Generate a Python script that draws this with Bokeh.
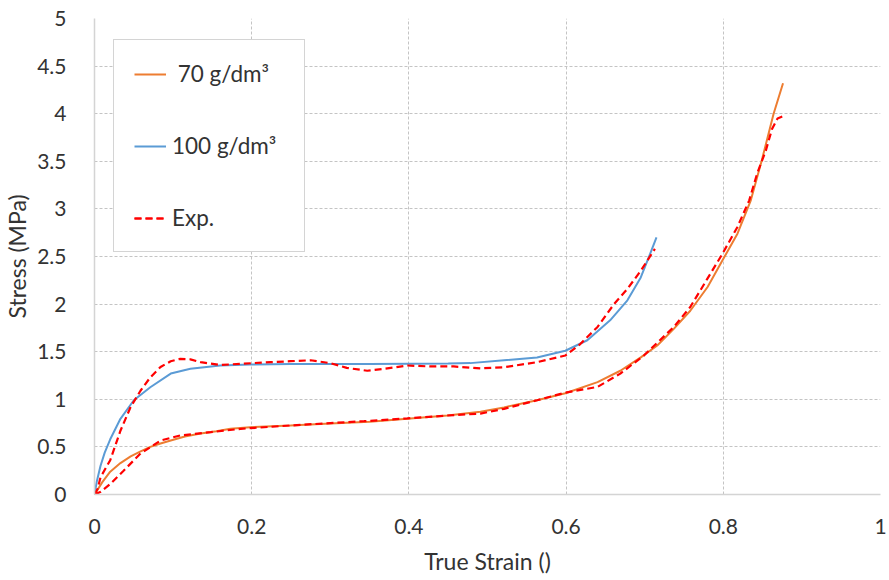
from bokeh.plotting import figure
from bokeh.models import Range1d, Legend, LegendItem, FixedTicker
from bokeh.embed import file_html
from bokeh.resources import INLINE

# Simulated compression curves (model) for two foam densities
strain_70 = [0, 0.01, 0.02, 0.033, 0.046, 0.058, 0.071, 0.084, 0.097, 0.115, 0.135,
             0.155, 0.173, 0.198, 0.249, 0.3, 0.35, 0.398, 0.449, 0.491, 0.521, 0.563,
             0.599, 0.64, 0.669, 0.695, 0.716, 0.737, 0.758, 0.78, 0.799, 0.818, 0.835,
             0.849, 0.864, 0.876]
stress_70 = [0, 0.13, 0.24, 0.33, 0.40, 0.45, 0.50, 0.535, 0.567, 0.61, 0.64,
             0.665, 0.69, 0.707, 0.725, 0.745, 0.765, 0.795, 0.83, 0.87, 0.915, 0.99,
             1.064, 1.18, 1.30, 1.44, 1.565, 1.74, 1.93, 2.18, 2.46, 2.74, 3.09,
             3.51, 4.0, 4.32]

strain_100 = [0, 0.003, 0.0076, 0.013, 0.02, 0.033, 0.05, 0.071, 0.097, 0.122, 0.16,
              0.198, 0.25, 0.3, 0.35, 0.4, 0.45, 0.478, 0.521, 0.563, 0.599, 0.627,
              0.656, 0.678, 0.695, 0.707, 0.715]
stress_100 = [0, 0.14, 0.30, 0.44, 0.58, 0.795, 0.99, 1.127, 1.27, 1.32, 1.355,
              1.365, 1.37, 1.37, 1.37, 1.373, 1.376, 1.38, 1.41, 1.44, 1.51, 1.62,
              1.83, 2.04, 2.28, 2.53, 2.70]

# Experimental measurements
exp_strain_70 = [0, 0.008, 0.02, 0.037, 0.0585, 0.084, 0.109, 0.148, 0.186, 0.249,
                 0.3, 0.343, 0.398, 0.449, 0.491, 0.521, 0.563, 0.599, 0.64, 0.669,
                 0.699, 0.737, 0.758, 0.78, 0.799, 0.818, 0.833, 0.843, 0.854, 0.862,
                 0.869, 0.875]
exp_stress_70 = [0, 0.03, 0.11, 0.25, 0.43, 0.567, 0.62, 0.655, 0.69, 0.725,
                 0.75, 0.77, 0.80, 0.83, 0.85, 0.90, 0.99, 1.07, 1.13, 1.27,
                 1.46, 1.76, 1.97, 2.27, 2.53, 2.81, 3.09, 3.37, 3.61, 3.84,
                 3.95, 3.97]

exp_strain_100 = [0, 0.004, 0.0076, 0.02, 0.033, 0.046, 0.0585, 0.071, 0.084, 0.097,
                  0.109, 0.122, 0.135, 0.16, 0.186, 0.224, 0.249, 0.275, 0.3, 0.321,
                  0.347, 0.368, 0.398, 0.427, 0.457, 0.491, 0.521, 0.563, 0.599, 0.618,
                  0.64, 0.661, 0.678, 0.695, 0.713]
exp_stress_100 = [0, 0.06, 0.18, 0.36, 0.67, 0.92, 1.09, 1.23, 1.34, 1.40,
                  1.425, 1.42, 1.39, 1.36, 1.373, 1.39, 1.40, 1.41, 1.38, 1.33,
                  1.30, 1.32, 1.355, 1.345, 1.345, 1.325, 1.337, 1.39, 1.46, 1.58,
                  1.76, 2.00, 2.16, 2.35, 2.58]

x_ticks = [0, 0.2, 0.4, 0.6, 0.8, 1]
y_ticks = [0, 0.5, 1, 1.5, 2, 2.5, 3, 3.5, 4, 4.5, 5]
x_labels = {0: "0", 0.2: "0.2", 0.4: "0.4", 0.6: "0.6", 0.8: "0.8", 1: "1"}
y_labels = {0: "0", 0.5: "0.5", 1: "1", 1.5: "1.5", 2: "2", 2.5: "2.5", 3: "3",
            3.5: "3.5", 4: "4", 4.5: "4.5", 5: "5"}

FONT = "Lato"
TEXT = "#333333"
ORANGE = "#ED7D31"
BLUE = "#5B9BD5"
RED = "#FF0000"

p = figure(width=889, height=580, output_backend="svg", toolbar_location=None,
           x_range=Range1d(0, 1), y_range=Range1d(0, 5))
p.min_border_left = 94
p.min_border_right = 9
p.min_border_top = 18
p.min_border_bottom = 86
p.outline_line_color = None
p.background_fill_color = "white"
p.border_fill_color = "white"

p.xaxis.ticker = FixedTicker(ticks=x_ticks)
p.yaxis.ticker = FixedTicker(ticks=y_ticks)
p.xaxis.major_label_overrides = x_labels
p.yaxis.major_label_overrides = y_labels

for ax in (p.xaxis, p.yaxis):
    ax.major_tick_line_color = None
    ax.minor_tick_line_color = None
    ax.axis_line_color = "#d4d4d4"
    ax.axis_line_width = 1.5
    ax.major_label_text_font = FONT
    ax.major_label_text_font_size = "21px"
    ax.major_label_text_color = TEXT
    ax.axis_label_text_font = FONT
    ax.axis_label_text_font_size = "23px"
    ax.axis_label_text_font_style = "normal"
    ax.axis_label_text_color = TEXT

p.xaxis.axis_label = "True Strain ()"
p.yaxis.axis_label = "Stress (MPa)"
p.xaxis.major_label_standoff = 18
p.yaxis.major_label_standoff = 22
p.xaxis.axis_label_standoff = 10
p.yaxis.axis_label_standoff = 3

for g in (p.xgrid, p.ygrid):
    g.grid_line_color = "#c4c4c4"
    g.grid_line_dash = "3 2"
    g.grid_line_width = 1

r70 = p.line(strain_70, stress_70, line_color=ORANGE, line_width=2)
r100 = p.line(strain_100, stress_100, line_color=BLUE, line_width=2)
rexp70 = p.line(exp_strain_70, exp_stress_70, line_color=RED, line_width=2.2,
                line_dash="7 4")
rexp100 = p.line(exp_strain_100, exp_stress_100, line_color=RED, line_width=2.2,
                 line_dash="7 4")

legend = Legend(items=[
    LegendItem(label=" 70 g/dm³", renderers=[r70]),
    LegendItem(label="100 g/dm³", renderers=[r100]),
    LegendItem(label="Exp.", renderers=[rexp70, rexp100]),
], location=(19, 242))
legend.margin = 0
legend.padding = 20
legend.spacing = 45
legend.glyph_width = 32
legend.glyph_height = 22
legend.label_height = 22
legend.label_width = 112
legend.label_standoff = 6
legend.label_text_font = FONT
legend.label_text_font_size = "22.5px"
legend.label_text_color = TEXT
legend.border_line_color = "#aaaaaa"
legend.border_line_width = 1.5
legend.background_fill_color = "white"
legend.background_fill_alpha = 1
p.add_layout(legend, "center")

open("out.html", "w").write(file_html(p, INLINE))
